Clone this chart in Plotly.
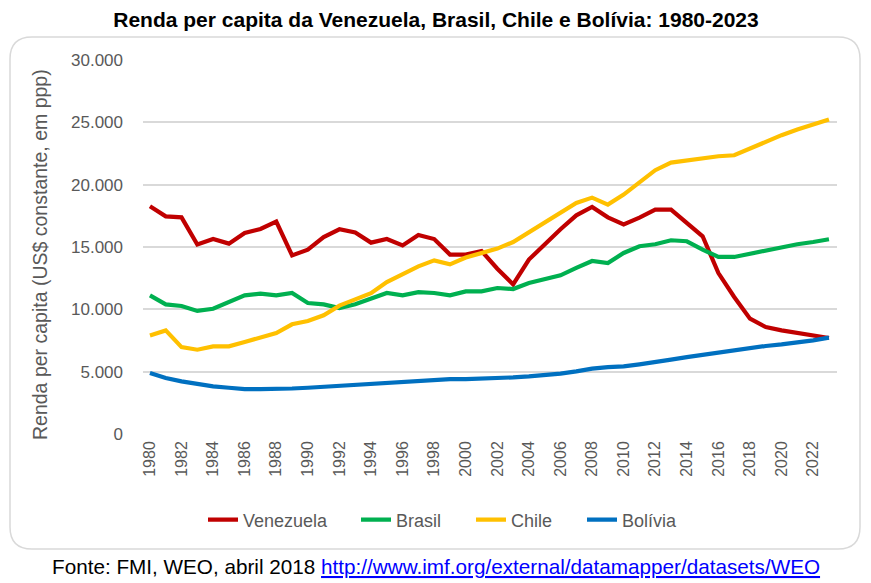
import plotly.graph_objects as go

years = list(range(1980, 2024))
venezuela = [18270, 17460, 17380, 15200, 15640, 15270, 16130, 16450, 17040, 14330,
             14790, 15800, 16420, 16160, 15350, 15640, 15130, 15970, 15640, 14390,
             14390, 14680, 13260, 12000, 13990, 15220, 16420, 17540, 18210, 17380,
             16810, 17360, 18000, 18000, 16930, 15860, 12910, 10990, 9250, 8580,
             8310, 8100, 7890, 7700]
brasil = [11120, 10400, 10270, 9870, 10050, 10590, 11120, 11260, 11120, 11310,
          10510, 10400, 10100, 10400, 10860, 11310, 11120, 11380, 11310, 11120,
          11440, 11440, 11710, 11630, 12110, 12380, 12730, 13320, 13880, 13720,
          14520, 15060, 15220, 15540, 15460, 14790, 14200, 14200, 14470, 14740,
          14980, 15220, 15400, 15620]
chile = [7910, 8310, 6970, 6760, 7030, 7030, 7380, 7700, 8100, 8800,
         9060, 9520, 10300, 10800, 11300, 12190, 12780, 13450, 13930, 13610,
         14150, 14470, 14870, 15400, 16200, 16960, 17810, 18530, 18960, 18400,
         19200, 20220, 21160, 21770, 21960, 22150, 22280, 22360, 22900, 23430,
         23970, 24420, 24850, 25230]
bolivia = [4890, 4490, 4220, 3980, 3820, 3710, 3600, 3600, 3600, 3650,
           3710, 3790, 3820, 3900, 3980, 4090, 4170, 4300, 4380, 4400,
           4400, 4420, 4440, 4540, 4620, 4700, 4840, 5020, 5240, 5370,
           5420, 5590, 5750, 5960, 6170, 6360, 6520, 6710, 6900, 7060,
           7190, 7330, 7510, 7730]
series_names = ["Venezuela", "Brasil", "Chile", "Bolívia"]
series_values = [venezuela, brasil, chile, bolivia]
series_colors = ["#C00000", "#00B050", "#FFC000", "#0070C0"]
legend_text_x = [245, 398, 513, 624]
x_tick_labels = [str(y) for y in range(1980, 2023, 2)]
y_tick_values = [0, 5000, 10000, 15000, 20000, 25000, 30000]

W, H = 871, 583
L, R, T, B = 143, 34, 60, 149
PW, PH = W - L - R, H - T - B

def px(x):
    return (x - L) / PW

def py(y):
    return (H - B - y) / PH

TXT = "#595959"
FONT = "Liberation Sans, Arial, sans-serif"

fig = go.Figure()
legend_layouts = {}
for i, (name, vals, col, tx) in enumerate(zip(series_names, series_values,
                                              series_colors, legend_text_x)):
    lg = "legend" if i == 0 else f"legend{i + 1}"
    fig.add_trace(go.Scatter(x=years, y=vals, name=name, mode="lines",
                             line=dict(color=col, width=4.2), legend=lg))
    legend_layouts[lg] = dict(
        orientation="h", x=(tx - 42) / W, xref="container", xanchor="left",
        y=1 - 520 / H, yref="container", yanchor="middle",
        font=dict(family=FONT, size=18, color=TXT),
        bgcolor="rgba(0,0,0,0)", borderwidth=0)

# rounded chart border
x0, y0, x1, y1, r = 10, 37, 860, 549, 22
pts = [
    ("M", (x0 + r, y0)), ("L", (x1 - r, y0)), ("Q", (x1, y0), (x1, y0 + r)),
    ("L", (x1, y1 - r)), ("Q", (x1, y1), (x1 - r, y1)), ("L", (x0 + r, y1)),
    ("Q", (x0, y1), (x0, y1 - r)), ("L", (x0, y0 + r)), ("Q", (x0, y0), (x0 + r, y0)),
]
path = ""
for item in pts:
    cmd = item[0]
    coords = " ".join(f"{px(a):.5f},{py(b):.5f}" for a, b in item[1:])
    path += f"{cmd} {coords} "
path += "Z"

fig.update_layout(
    width=W, height=H,
    margin=dict(l=L, r=R, t=T, b=B),
    paper_bgcolor="white", plot_bgcolor="white",
    separators=",.",
    title=dict(text="<b>Renda per capita da Venezuela, Brasil, Chile e Bolívia: 1980-2023</b>",
               x=436 / W, xref="container", xanchor="center",
               y=1 - 20 / H, yref="container", yanchor="middle",
               font=dict(family=FONT, size=21, color="black")),
    xaxis=dict(range=[1979.56, 2023.51], tickmode="array",
               tickvals=list(range(1980, 2023, 2)), ticktext=x_tick_labels,
               tickangle=-90, showgrid=False, zeroline=False, showline=False,
               ticks="", ticklabelstandoff=3,
               tickfont=dict(family=FONT, size=16, color=TXT)),
    yaxis=dict(range=[0, 30000], tickvals=y_tick_values, tickformat=",d",
               showgrid=True, gridcolor="#D9D9D9", gridwidth=1.5,
               zeroline=False, showline=False, ticks="", ticklabelstandoff=19,
               tickfont=dict(family=FONT, size=17, color=TXT)),
    showlegend=True,
    shapes=[dict(type="path", path=path, xref="paper", yref="paper",
                 line=dict(color="#D9D9D9", width=1.5), fillcolor="rgba(0,0,0,0)",
                 layer="below")],
    annotations=[
        dict(text="Renda per capita (US$ constante, em ppp)", textangle=-90,
             x=px(40), y=py(255), xref="paper", yref="paper",
             xanchor="center", yanchor="middle", showarrow=False,
             font=dict(family=FONT, size=19.5, color=TXT)),
        dict(text="Fonte: FMI, WEO, abril 2018 "
                  "<a href='http://www.imf.org/external/datamapper/datasets/WEO'>"
                  "<span style='color:#0000FF;text-decoration:underline'>"
                  "http://www.imf.org/external/datamapper/datasets/WEO</span></a>",
             x=px(436), y=py(566), xref="paper", yref="paper",
             xanchor="center", yanchor="middle", showarrow=False,
             font=dict(family=FONT, size=20.7, color="black")),
    ],
)
fig.update_layout(**legend_layouts)

fig.write_html("out.html",
               config={"displayModeBar": False},
               post_script="document.body.style.margin='0';"
                           "document.body.style.overflow='hidden';")
